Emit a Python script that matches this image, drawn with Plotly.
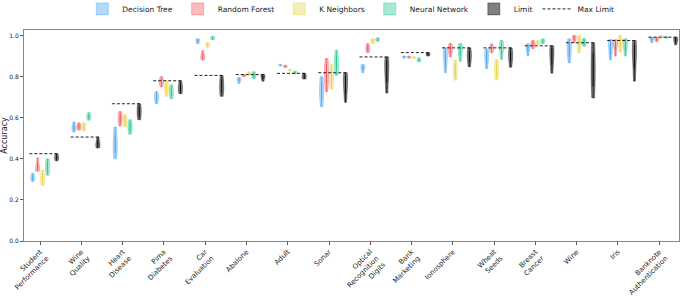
import plotly.graph_objects as go

datasets = ["Student<br>Performance", "Wine<br>Quality", "Heart<br>Disease", "Pima<br>Diabetes",
            "Car<br>Evaluation", "Abalone", "Adult", "Sonar", "Optical<br>Recognition<br>Digits",
            "Bank<br>Marketing", "Ionosphere", "Wheat<br>Seeds", "Breast<br>Cancer", "Wine", "Iris",
            "Banknote<br>Authentication"]

# five-number summaries (min, q1, median, q3, max)
decision_tree = [
    [0.29, 0.30, 0.31, 0.315, 0.33], [0.53, 0.545, 0.55, 0.56, 0.58], [0.40, 0.44, 0.47, 0.50, 0.555],
    [0.668, 0.69, 0.70, 0.71, 0.728], [0.96, 0.97, 0.975, 0.978, 0.984], [0.767, 0.78, 0.785, 0.79, 0.795],
    [0.852, 0.855, 0.856, 0.857, 0.86], [0.654, 0.70, 0.73, 0.76, 0.80], [0.819, 0.835, 0.845, 0.85, 0.859],
    [0.89, 0.895, 0.897, 0.898, 0.90], [0.819, 0.87, 0.90, 0.92, 0.94], [0.838, 0.88, 0.90, 0.92, 0.935],
    [0.90, 0.93, 0.94, 0.95, 0.96], [0.867, 0.91, 0.94, 0.96, 0.984], [0.882, 0.92, 0.95, 0.967, 0.98],
    [0.965, 0.978, 0.983, 0.987, 0.992]]
random_forest = [
    [0.34, 0.345, 0.355, 0.37, 0.405], [0.54, 0.55, 0.555, 0.565, 0.575], [0.56, 0.58, 0.595, 0.61, 0.63],
    [0.75, 0.765, 0.775, 0.785, 0.80], [0.88, 0.89, 0.895, 0.905, 0.927], [0.80, 0.803, 0.805, 0.807, 0.81],
    [0.845, 0.848, 0.85, 0.852, 0.856], [0.727, 0.78, 0.81, 0.85, 0.888], [0.917, 0.93, 0.94, 0.945, 0.961],
    [0.89, 0.893, 0.895, 0.897, 0.90], [0.896, 0.92, 0.935, 0.945, 0.961], [0.916, 0.93, 0.935, 0.945, 0.96],
    [0.935, 0.95, 0.96, 0.965, 0.976], [0.965, 0.98, 0.99, 0.995, 1.0], [0.90, 0.94, 0.96, 0.97, 0.98],
    [0.97, 0.978, 0.983, 0.987, 0.992]]
k_neighbors = [
    [0.27, 0.29, 0.305, 0.32, 0.345], [0.535, 0.545, 0.555, 0.565, 0.575], [0.555, 0.57, 0.585, 0.60, 0.615],
    [0.704, 0.73, 0.745, 0.76, 0.78], [0.943, 0.95, 0.955, 0.96, 0.967], [0.807, 0.812, 0.815, 0.82, 0.824],
    [0.827, 0.83, 0.832, 0.834, 0.836], [0.74, 0.77, 0.79, 0.82, 0.859], [0.961, 0.968, 0.972, 0.978, 0.985],
    [0.888, 0.891, 0.893, 0.895, 0.897], [0.783, 0.81, 0.83, 0.855, 0.88], [0.785, 0.81, 0.83, 0.86, 0.883],
    [0.955, 0.96, 0.965, 0.97, 0.976], [0.916, 0.95, 0.97, 0.985, 1.0], [0.919, 0.95, 0.97, 0.985, 1.0],
    [0.987, 0.99, 0.993, 0.996, 1.0]]
neural_network = [
    [0.32, 0.34, 0.36, 0.38, 0.40], [0.588, 0.598, 0.605, 0.612, 0.625], [0.52, 0.54, 0.555, 0.57, 0.59],
    [0.693, 0.71, 0.725, 0.74, 0.76], [0.98, 0.984, 0.988, 0.992, 0.997], [0.79, 0.80, 0.807, 0.815, 0.824],
    [0.814, 0.818, 0.82, 0.823, 0.827], [0.807, 0.84, 0.86, 0.89, 0.929], [0.972, 0.977, 0.98, 0.984, 0.989],
    [0.872, 0.877, 0.88, 0.885, 0.892], [0.875, 0.91, 0.93, 0.945, 0.961], [0.883, 0.92, 0.94, 0.955, 0.976],
    [0.96, 0.968, 0.972, 0.978, 0.984], [0.948, 0.96, 0.965, 0.975, 0.987], [0.90, 0.935, 0.955, 0.97, 0.984],
    [0.987, 0.989, 0.991, 0.993, 0.995]]
limit = [
    [0.39, 0.40, 0.405, 0.415, 0.425], [0.453, 0.46, 0.47, 0.485, 0.506], [0.59, 0.61, 0.63, 0.65, 0.668],
    [0.717, 0.73, 0.745, 0.76, 0.78], [0.704, 0.73, 0.75, 0.78, 0.806], [0.778, 0.79, 0.80, 0.805, 0.81],
    [0.788, 0.795, 0.80, 0.81, 0.816], [0.675, 0.73, 0.77, 0.80, 0.819], [0.72, 0.79, 0.84, 0.875, 0.896],
    [0.90, 0.905, 0.91, 0.913, 0.917], [0.848, 0.88, 0.90, 0.92, 0.94], [0.846, 0.88, 0.90, 0.92, 0.94],
    [0.817, 0.87, 0.91, 0.935, 0.95], [0.696, 0.77, 0.83, 0.90, 0.965], [0.778, 0.86, 0.92, 0.95, 0.976],
    [0.955, 0.97, 0.98, 0.987, 0.992]]
max_limit = [0.425, 0.506, 0.668, 0.78, 0.806, 0.81, 0.816, 0.819, 0.896, 0.917, 0.94, 0.94,
             0.95, 0.965, 0.976, 0.992]

series = [
    ("Decision Tree", decision_tree, "#3d9ff0", -0.18),
    ("Random Forest", random_forest, "#ee4d55", -0.06),
    ("K Neighbors", k_neighbors, "#e6d03f", 0.06),
    ("Neural Network", neural_network, "#1bc488", 0.18),
    ("Limit", limit, "#000000", 0.40),
]


def rgba(hexc, a):
    h = hexc.lstrip("#")
    r, g, b = int(h[0:2], 16), int(h[2:4], 16), int(h[4:6], 16)
    return f"rgba({r},{g},{b},{a})"


fig = go.Figure()
for name, data, color, off in series:
    is_lim = name == "Limit"
    for i, vals in enumerate(data):
        fig.add_trace(go.Violin(
            x=[i + off] * len(vals), y=vals, name=name, legendgroup=name,
            showlegend=(i == 0),
            width=0.1 if is_lim else 0.1, spanmode="hard", points=False,
            line=dict(color=rgba(color, 0.6), width=0.6),
            fillcolor=rgba(color, 0.5 if is_lim else 0.38),
            box=dict(visible=True, width=0.03, fillcolor=rgba(color, 0.9),
                     line=dict(color=rgba(color, 0.95), width=0.7)),
            meanline_visible=False, hoveron="violins",
        ))

# Max Limit dashed segments
mx, my = [], []
for i, m in enumerate(max_limit):
    mx += [i - 0.26, i + 0.44, None]
    my += [m, m, None]
fig.add_trace(go.Scatter(x=mx, y=my, mode="lines", name="Max Limit",
                         line=dict(color="#222222", width=1.0, dash="3px,2px")))

fig.update_layout(
    width=685, height=296,
    margin=dict(l=24, r=6, t=30, b=55, autoexpand=False),
    plot_bgcolor="white", paper_bgcolor="white",
    violinmode="overlay",
    font=dict(family="DejaVu Sans", size=7, color="#222"),
    legend=dict(orientation="h", x=0.499, xanchor="center", y=1.10, yanchor="middle",
                font=dict(size=7.5), itemwidth=30, tracegroupgap=0, bgcolor="rgba(255,255,255,0)"),
    showlegend=True,
)
fig.update_xaxes(range=[-0.39, 15.48], tickvals=list(range(len(datasets))), ticktext=datasets,
                 tickangle=-45, showline=True, mirror=True, linecolor="#888", linewidth=1,
                 ticks="outside", ticklen=3, tickcolor="#555", showgrid=False, zeroline=False,
                 tickfont=dict(size=7))
fig.update_yaxes(range=[0, 1.027], tickvals=[0, 0.2, 0.4, 0.6, 0.8, 1.0], tickformat=".1f",
                 showline=True, mirror=True, linecolor="#888", linewidth=1,
                 ticks="outside", ticklen=3, tickcolor="#555", showgrid=False, zeroline=False,
                 title=dict(text="Accuracy", font=dict(size=8), standoff=4), tickfont=dict(size=6))

fig.write_html("out.html", config={"displayModeBar": False},
               post_script="document.body.style.margin='0';")
